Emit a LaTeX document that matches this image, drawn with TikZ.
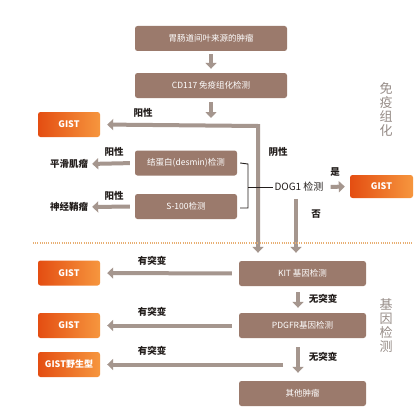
\documentclass[tikz,border=0pt]{standalone}
\usepackage{fontspec}
\setmainfont{Noto Sans CJK SC}
\usetikzlibrary{arrows.meta}
\definecolor{boxc}{RGB}{155,122,108}
\definecolor{arrc}{RGB}{165,150,142}
\definecolor{orA}{RGB}{228,78,18}
\definecolor{orB}{RGB}{246,150,62}
\definecolor{sidec}{RGB}{150,140,135}
\definecolor{dotc}{RGB}{232,175,115}
\definecolor{labc}{RGB}{35,30,28}
\begin{document}
\begin{tikzpicture}[x=1pt,y=-1pt,
 brownbox/.style={fill=boxc, rounded corners=2.5pt, text=white, font=\fontsize{8.5}{10}\selectfont, inner sep=0pt, minimum height=25pt},
 gistbox/.style={rounded corners=2.5pt, left color=orA, right color=orB, text=white, font=\bfseries\fontsize{9}{10}\selectfont, inner sep=0pt, minimum width=62pt, minimum height=25pt},
 lab/.style={font=\bfseries\fontsize{9.5}{11}\selectfont, text=labc, inner sep=0pt},
 sidelab/.style={font=\fontsize{13}{14}\selectfont, text=sidec, align=center, inner sep=0pt},
 arr/.style={draw=arrc, line width=4pt, -{Triangle[length=6pt,width=11pt]}},
 arrtwo/.style={draw=arrc, line width=4pt, {Triangle[length=6pt,width=11pt]}-{Triangle[length=6pt,width=11pt]}},
 brk/.style={draw=labc, line width=0.9pt},
 ]
\useasboundingbox[fill=white] (0,0) rectangle (420,420);

% brown boxes
\node[brownbox, minimum width=152pt] (b1) at (211,38.5) {胃肠道间叶来源的肿瘤};
\node[brownbox, minimum width=152pt] (b2) at (211,85.5) {CD117 免疫组化检测};
\node[brownbox, minimum width=102pt] (ds) at (186,163) {结蛋白(desmin)检测};
\node[brownbox, minimum width=102pt] (s1) at (186,206.5) {S-100检测};
\node[brownbox, minimum width=127pt] (kit) at (302.5,273.5) {KIT 基因检测};
\node[brownbox, minimum width=127pt] (pd) at (302.5,325.5) {PDGFR基因检测};
\node[brownbox, minimum width=127pt] (ot) at (302.5,393.5) {其他肿瘤};

% orange boxes
\node[gistbox] (g1) at (69,124.5) {GIST};
\node[gistbox, minimum width=63pt, minimum height=23pt] (gr) at (381.5,186.5) {GIST};
\node[gistbox] (g2) at (69,273) {GIST};
\node[gistbox] (g3) at (69,325.5) {GIST};
\node[gistbox] (gw) at (69,364.5) {GIST野生型};

% plain text nodes
\node[font=\fontsize{10}{12}\selectfont, text=labc, inner sep=1pt] (dog) at (299,187) {DOG1 检测};
\node[lab] (sm) at (69,164) {平滑肌瘤};
\node[lab] (nv) at (69,207) {神经鞘瘤};

% labels
\node[lab] at (143,113) {阳性};
\node[lab] at (278,152) {阴性};
\node[lab] at (114,152) {阳性};
\node[lab] at (114,196) {阳性};
\node[lab] at (335,172) {是};
\node[lab] at (316,214) {否};
\node[lab] at (152,261) {有突变};
\node[lab] at (152,312) {有突变};
\node[lab] at (152,351) {有突变};
\node[lab] at (323,299) {无突变};
\node[lab] at (323,357) {无突变};
\node[sidelab] at (386,110) {免\\疫\\组\\化};
\node[sidelab] at (386,326) {基\\因\\检\\测};

% coordinates
\coordinate (j1) at (211,126);
\coordinate (c1) at (258,126);
\coordinate (bt) at (248,164);
\coordinate (bb) at (248,208);
\coordinate (bm) at (248,187);
\coordinate (ws) at (283,364.5);

% connectors
\draw[arr, shorten <=3pt, shorten >=4pt] (b1) -- (b2);
\draw[arr, shorten <=4pt, shorten >=8pt] (b2) -- (j1);
\draw[arrtwo, shorten <=7pt, shorten >=8pt] (g1.east) -- (c1) -- (c1 |- kit.north);
\draw[arr, shorten <=5pt, shorten >=4pt] (ds.west) -- (sm.east);
\draw[arr, shorten <=5pt, shorten >=4pt] (s1.west) -- (nv.east);
\draw[brk] ([xshift=3pt]ds.east) -- (bt) -- (bb) -- ([xshift=3pt]s1.east |- bb);
\draw[brk] (bm) -- (dog.west);
\draw[arr, shorten <=6pt, shorten >=5pt] (dog.east) -- (gr.west);
\draw[arr, shorten <=6pt, shorten >=8pt] ([xshift=-3pt]dog.south) -- ([xshift=-3pt]dog.south |- kit.north);
\draw[dotc, line width=1.2pt, dash pattern=on 1pt off 1.2pt] (33,243) -- (412,243);
\draw[arr, shorten <=7pt, shorten >=7pt] (kit.west) -- (g2.east);
\draw[arr, shorten <=6pt, shorten >=5pt] ([xshift=-4.5pt]kit.south) -- ([xshift=-4.5pt]pd.north);
\draw[arr, shorten <=7pt, shorten >=7pt] (pd.west) -- (g3.east);
\draw[arr, shorten <=9pt, shorten >=8pt] ([xshift=-4.5pt]pd.south) -- ([xshift=-4.5pt]ot.north);
\draw[arr, shorten >=7pt] (ws) -- (gw.east);
\end{tikzpicture}
\end{document}
